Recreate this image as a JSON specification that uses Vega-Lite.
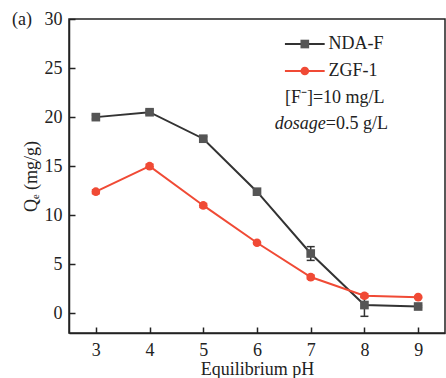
{
  "$schema": "https://vega.github.io/schema/vega-lite/v6.json",
  "autosize": {"type": "none"},
  "padding": {"left": 69, "top": 19, "right": 1, "bottom": 45},
  "width": 376,
  "height": 314,
  "background": "white",
  "title": {"text": "(a)", "orient": "top", "anchor": "start", "frame": "group", "align": "left", "baseline": "middle", "offset": 0, "dx": -57, "dy": 28, "font": "Liberation Serif", "fontSize": 18, "fontWeight": "normal", "color": "#222"},
  "config": {
    "view": {"stroke": "#222", "strokeWidth": 1.5},
    "axis": {"grid": false, "domainColor": "#222", "domainWidth": 1.5, "tickColor": "#222", "tickWidth": 1.5, "tickSize": -6, "labelFont": "Liberation Serif", "labelFontSize": 18, "labelColor": "#222", "titleFont": "Liberation Serif", "titleFontSize": 18, "titleFontWeight": "normal", "titleColor": "#222"}
  },
  "layer": [
    {
      "data": {"name": "main", "values": [
        {"pH": 3, "series": "NDA-F", "Qe": 20.0, "lo": 19.8, "hi": 20.2},
        {"pH": 4, "series": "NDA-F", "Qe": 20.5, "lo": 20.3, "hi": 20.7},
        {"pH": 5, "series": "NDA-F", "Qe": 17.8, "lo": 17.6, "hi": 18.0},
        {"pH": 6, "series": "NDA-F", "Qe": 12.4, "lo": 12.2, "hi": 12.6},
        {"pH": 7, "series": "NDA-F", "Qe": 6.1, "lo": 5.4, "hi": 6.8},
        {"pH": 8, "series": "NDA-F", "Qe": 0.85, "lo": -0.3, "hi": 1.7},
        {"pH": 9, "series": "NDA-F", "Qe": 0.7, "lo": 0.6, "hi": 0.8},
        {"pH": 3, "series": "ZGF-1", "Qe": 12.4, "lo": 12.2, "hi": 12.6},
        {"pH": 4, "series": "ZGF-1", "Qe": 15.0, "lo": 14.8, "hi": 15.2},
        {"pH": 5, "series": "ZGF-1", "Qe": 11.0, "lo": 10.8, "hi": 11.2},
        {"pH": 6, "series": "ZGF-1", "Qe": 7.2, "lo": 7.1, "hi": 7.3},
        {"pH": 7, "series": "ZGF-1", "Qe": 3.7, "lo": 3.5, "hi": 3.9},
        {"pH": 8, "series": "ZGF-1", "Qe": 1.8, "lo": 1.6, "hi": 2.0},
        {"pH": 9, "series": "ZGF-1", "Qe": 1.65, "lo": 1.55, "hi": 1.75}
      ]},
      "encoding": {
        "x": {"field": "pH", "type": "quantitative", "scale": {"domain": [2.5, 9.5], "nice": false}, "axis": {"values": [3, 4, 5, 6, 7, 8, 9], "format": "d", "title": "Equilibrium pH", "labelPadding": 14, "titlePadding": 1}}
      },
      "layer": [
        {
          "mark": {"type": "rule", "strokeWidth": 1.5},
          "encoding": {
            "y": {"field": "lo", "type": "quantitative", "scale": {"domain": [-2, 30], "nice": false}, "axis": {"values": [0, 5, 10, 15, 20, 25, 30], "title": "Qₑ (mg/g)", "labelPadding": 13, "titlePadding": 4}},
            "y2": {"field": "hi"},
            "stroke": {"field": "series", "type": "nominal", "scale": {"domain": ["NDA-F", "ZGF-1"], "range": ["#333333", "#f04a35"]}, "legend": null}
          }
        },
        {
          "mark": {"type": "tick", "orient": "horizontal", "size": 8, "thickness": 1.5, "opacity": 1},
          "encoding": {
            "y": {"field": "lo", "type": "quantitative"},
            "fill": {"field": "series", "type": "nominal", "scale": {"domain": ["NDA-F", "ZGF-1"], "range": ["#333333", "#f04a35"]}, "legend": null}
          }
        },
        {
          "mark": {"type": "tick", "orient": "horizontal", "size": 8, "thickness": 1.5, "opacity": 1},
          "encoding": {
            "y": {"field": "hi", "type": "quantitative"},
            "fill": {"field": "series", "type": "nominal", "legend": null}
          }
        },
        {
          "mark": {"type": "line", "strokeWidth": 2},
          "encoding": {
            "y": {"field": "Qe", "type": "quantitative"},
            "stroke": {"field": "series", "type": "nominal", "legend": null}
          }
        },
        {
          "mark": {"type": "point", "filled": true, "opacity": 1, "size": 75},
          "encoding": {
            "y": {"field": "Qe", "type": "quantitative"},
            "color": {"field": "series", "type": "nominal", "scale": {"domain": ["NDA-F", "ZGF-1"], "range": ["#555555", "#f04a35"]}, "legend": null},
            "shape": {"field": "series", "type": "nominal", "scale": {"domain": ["NDA-F", "ZGF-1"], "range": ["square", "circle"]}, "legend": null}
          }
        }
      ]
    },
    {
      "data": {"values": [{"series": "NDA-F"}]},
      "layer": [
        {
          "mark": {"type": "rule", "strokeWidth": 2},
          "encoding": {"x": {"datum": 6.52, "type": "quantitative"}, "x2": {"datum": 7.26}, "y": {"datum": 27.45, "type": "quantitative"}, "stroke": {"field": "series", "type": "nominal", "legend": null}}
        },
        {
          "mark": {"type": "point", "filled": true, "opacity": 1, "size": 75},
          "encoding": {"x": {"datum": 6.89, "type": "quantitative"}, "y": {"datum": 27.45, "type": "quantitative"}, "color": {"field": "series", "type": "nominal", "legend": null}, "shape": {"field": "series", "type": "nominal", "legend": null}}
        },
        {
          "mark": {"type": "text", "font": "Liberation Serif", "fontSize": 18, "fill": "#222", "align": "left", "baseline": "middle"},
          "encoding": {"x": {"datum": 7.33, "type": "quantitative"}, "y": {"datum": 27.45, "type": "quantitative"}, "text": {"field": "series"}}
        }
      ]
    },
    {
      "data": {"values": [{"series": "ZGF-1"}]},
      "layer": [
        {
          "mark": {"type": "rule", "strokeWidth": 2},
          "encoding": {"x": {"datum": 6.52, "type": "quantitative"}, "x2": {"datum": 7.26}, "y": {"datum": 24.7, "type": "quantitative"}, "stroke": {"field": "series", "type": "nominal", "legend": null}}
        },
        {
          "mark": {"type": "point", "filled": true, "opacity": 1, "size": 75},
          "encoding": {"x": {"datum": 6.89, "type": "quantitative"}, "y": {"datum": 24.7, "type": "quantitative"}, "color": {"field": "series", "type": "nominal", "legend": null}, "shape": {"field": "series", "type": "nominal", "legend": null}}
        },
        {
          "mark": {"type": "text", "font": "Liberation Serif", "fontSize": 18, "fill": "#222", "align": "left", "baseline": "middle"},
          "encoding": {"x": {"datum": 7.33, "type": "quantitative"}, "y": {"datum": 24.7, "type": "quantitative"}, "text": {"field": "series"}}
        }
      ]
    },
    {
      "data": {"values": [{"note": "[F⁻]=10 mg/L"}]},
      "mark": {"type": "text", "font": "Liberation Serif", "fontSize": 18, "fill": "#222", "align": "left", "baseline": "middle"},
      "encoding": {"x": {"datum": 6.52, "type": "quantitative"}, "y": {"datum": 22.0, "type": "quantitative"}, "text": {"field": "note"}}
    },
    {
      "data": {"values": [{"note": "dosage"}]},
      "mark": {"type": "text", "font": "Liberation Serif", "fontSize": 18, "fontStyle": "italic", "fill": "#222", "align": "right", "baseline": "middle"},
      "encoding": {"x": {"datum": 7.28, "type": "quantitative"}, "y": {"datum": 19.3, "type": "quantitative"}, "text": {"field": "note"}}
    },
    {
      "data": {"values": [{"note": "=0.5 g/L"}]},
      "mark": {"type": "text", "font": "Liberation Serif", "fontSize": 18, "fill": "#222", "align": "left", "baseline": "middle"},
      "encoding": {"x": {"datum": 7.28, "type": "quantitative"}, "y": {"datum": 19.3, "type": "quantitative"}, "text": {"field": "note"}}
    }
  ]
}
